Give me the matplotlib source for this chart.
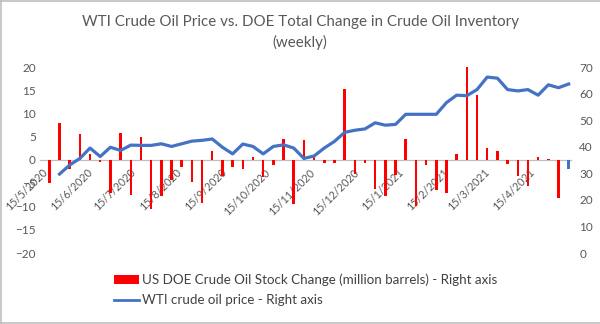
import matplotlib
matplotlib.use("Agg")
import matplotlib.pyplot as plt
from matplotlib.patches import Patch
from matplotlib.lines import Line2D
import numpy as np
import pandas as pd

# ---------------- data ----------------
start_date = "2020-05-15"
stock_change = [
    -4.9, 8.0, -2.0, 5.6, 1.3, -0.5, -7.2, 5.7, -7.6, 5.0,
    -10.5, -7.7, -4.3, -1.6, -4.7, -9.2, 2.0, -3.4, -1.6, -1.9,
    0.6, -3.6, -1.1, 4.5, -9.5,
    4.4, 0.8, -0.7, -0.7, 15.3, -3.1, -0.6, -6.2, -7.7, -3.3,
    4.5, -9.9, -1.1, -6.5, -7.2, 1.3, 20.0, 14.0, 2.5, 2.0,
    -0.9, -3.4, -5.6, 0.7, 0.2, -8.1, -2.0,
]
wti_price = [
    np.nan, 29.7, 33.1, 35.6, 39.5, 36.3, 39.8, 38.6, 40.6, 40.5,
    40.5, 41.1, 40.1, 41.1, 42.1, 42.4, 42.9, 39.8, 37.3, 41.0,
    40.1, 37.3, 40.1, 40.7, 39.5,
    35.6, 36.5, 39.5, 42.0, 45.4, 46.2, 46.7, 49.0, 48.1, 48.4,
    52.2, 52.2, 52.2, 52.2, 56.6, 59.4, 59.2, 61.5, 66.2, 65.8,
    61.5, 61.0, 61.5, 59.4, 63.3, 62.2, 63.6,
]
tick_dates = ["2020-05-15", "2020-06-15", "2020-07-15", "2020-08-15",
              "2020-09-15", "2020-10-15", "2020-11-15", "2020-12-15",
              "2021-01-15", "2021-02-15", "2021-03-15", "2021-04-15"]
tick_labels = ["15/5/2020", "15/6/2020", "15/7/2020", "15/8/2020",
               "15/9/2020", "15/10/2020", "15/11/2020", "15/12/2020",
               "15/1/2021", "15/2/2021", "15/3/2021", "15/4/2021"]
left_ticks = [-20, -15, -10, -5, 0, 5, 10, 15, 20]
right_ticks = [0, 10, 20, 30, 40, 50, 60, 70]
title_line1 = "WTI Crude Oil Price vs. DOE Total Change in Crude Oil Inventory"
title_line2 = "(weekly)"
bar_label = "US DOE Crude Oil Stock Change (million barrels) - Right axis"
line_label = "WTI crude oil price - Right axis"

# ---------------- styling ----------------
plt.rcParams['font.family'] = ['Lato', 'DejaVu Sans']
RED = "#FF0000"
BLUE = "#4472C4"
GRAY = "#595959"

dates = pd.date_range(start_date, periods=len(stock_change), freq="7D")
bar_colors = [RED] * (len(stock_change) - 1) + [BLUE]

fig = plt.figure(figsize=(6.0, 3.24), dpi=100)
ax = fig.add_axes([40 / 600, 1 - 253 / 324, (571 - 40) / 600, (253 - 67) / 324])
ax2 = ax.twinx()

ax.bar(dates, stock_change, width=1.7, color=bar_colors, zorder=3)
ax2.plot(dates, wti_price, color=BLUE, lw=2.3, solid_joinstyle="round", zorder=4)

ax.set_ylim(-20, 20)
ax2.set_ylim(0, 70)
ax.set_yticks(left_ticks)
ax2.set_yticks(right_ticks)
ax.set_xlim(dates[0] - pd.Timedelta(days=6.4), dates[-1] + pd.Timedelta(days=1.6))

ax.set_xticks(pd.to_datetime(tick_dates))
ax.set_xticklabels(tick_labels)

for a in (ax, ax2):
    for s in a.spines.values():
        s.set_visible(False)
    a.tick_params(axis="both", length=0, colors=GRAY, labelsize=8.5)
    a.patch.set_visible(False)

ax.spines["bottom"].set_visible(True)
ax.spines["bottom"].set_position(("data", 0))
ax.spines["bottom"].set_color("#BFBFBF")
ax.spines["bottom"].set_linewidth(0.9)
ax.spines["bottom"].set_zorder(2)
ax.tick_params(axis="x", pad=5, labelsize=7.8, labelrotation=45)
ax.tick_params(axis="y", pad=3)
ax2.tick_params(axis="y", pad=6)
for lab in ax.get_xticklabels():
    lab.set_horizontalalignment("right")
    lab.set_verticalalignment("top")
    lab.set_rotation_mode("default")

fig.text(0.5, 1 - 22 / 324, title_line1, ha="center", va="center",
         fontsize=10.9, color=GRAY)
fig.text(0.5, 1 - 42 / 324, title_line2, ha="center", va="center",
         fontsize=10.9, color=GRAY)

handles = [Patch(facecolor=RED, edgecolor="none"),
           Line2D([0], [0], color=BLUE, lw=2)]
fig.legend(handles, [bar_label, line_label], loc="upper left",
           bbox_to_anchor=(107 / 600, 1 - 267 / 324), frameon=False,
           fontsize=9.6, handlelength=1.9, handleheight=0.6, handletextpad=0.25,
           labelspacing=0.6, labelcolor="#404040", borderpad=0)

# outer chart border
for xs, ys in [((0.002, 0.002), (0.0, 1.0)), ((0.0, 1.0), (0.997, 0.997)),
               ((0.0, 1.0), (1 - 322.5 / 324, 1 - 322.5 / 324))]:
    fig.add_artist(Line2D(xs, ys, color="#BFBFBF", lw=1.2, transform=fig.transFigure))

fig.savefig("out.png", dpi=100, facecolor="white")
